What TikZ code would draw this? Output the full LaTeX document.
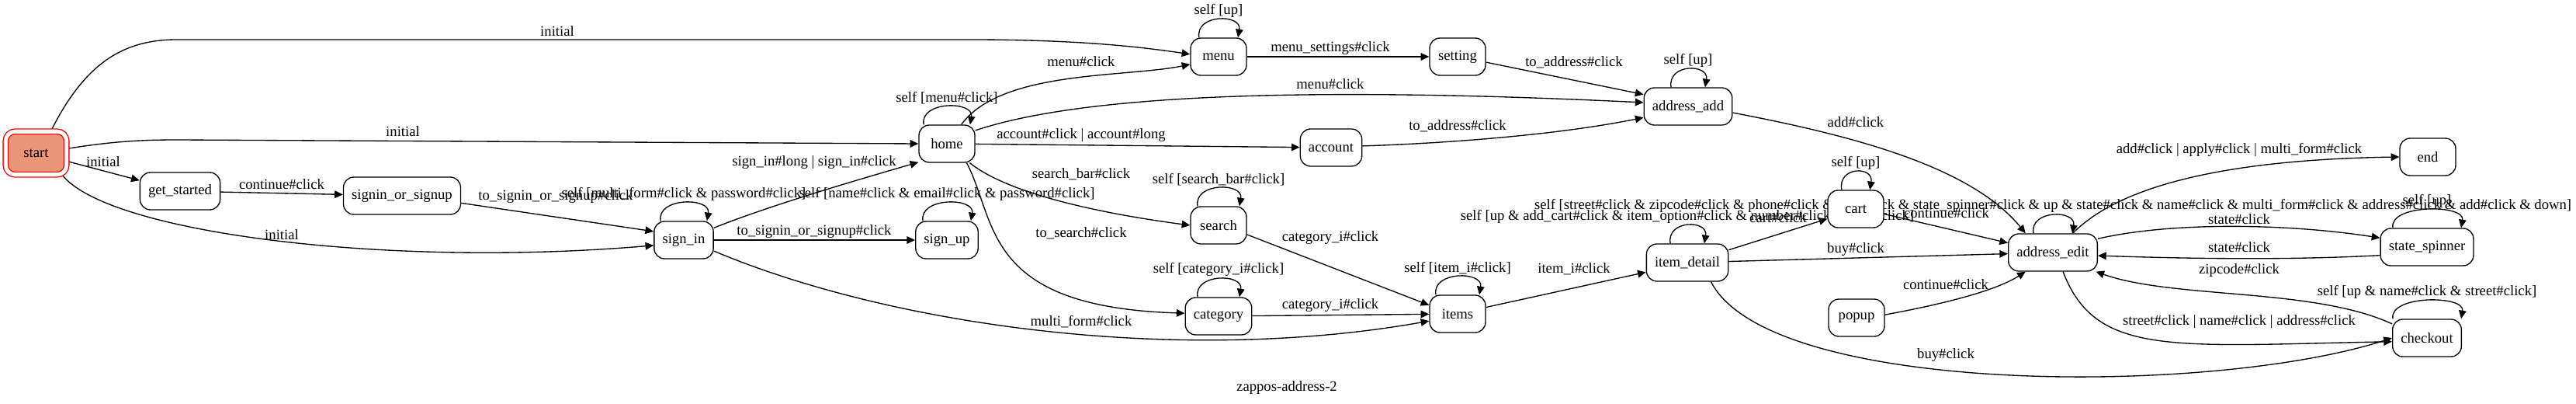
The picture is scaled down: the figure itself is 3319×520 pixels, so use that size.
\documentclass[tikz,border=0pt]{standalone}
\usepackage{fontspec}
\setmainfont{Liberation Serif}
\usetikzlibrary{arrows.meta,backgrounds}
\definecolor{salmonfill}{RGB}{233,150,122}
\tikzset{
  state/.style={draw, line width=0.5pt, rounded corners=5pt, fill=white,
    minimum width=27pt, minimum height=18pt, inner xsep=4pt, inner ysep=0pt,
    font=\fontsize{7}{8.4}\selectfont},
  initstate/.style={state, draw=red, fill=salmonfill, rounded corners=4.5pt,
    double=white, double distance=1.9pt, minimum width=29.4pt, minimum height=20.8pt},
  lbl/.style={inner sep=0pt, font=\fontsize{7}{8.4}\selectfont},
  arr/.style={-{Triangle[length=4pt,width=3.6pt]}, line width=0.5pt},
  selfloop/.style={to path={([xshift=-#1]\tikztostart.north)
    .. controls +(-2pt,11.5pt) and +(2pt,11.5pt) .. ([xshift=#1]\tikztostart.north) \tikztonodes}},
  selfloop/.default=9.4pt
}
\begin{document}
\begin{tikzpicture}[x=0.375pt,y=-0.375pt]
  \useasboundingbox (0,0) rectangle (3319,520);
  % states
  \node[initstate] (start) at (46.5,197) {start};
  \node[state] (getstarted) at (232,246) {get\_started};
  \node[state] (signinsignup) at (518,252) {signin\_or\_signup};
  \node[state] (signin) at (881,309) {sign\_in};
  \node[state] (home) at (1220,185) {home};
  \node[state] (signup) at (1220,309) {sign\_up};
  \node[state] (menu) at (1570,73) {menu};
  \node[state] (search) at (1570,290) {search};
  \node[state] (category) at (1570,407) {category};
  \node[state] (setting) at (1878,73) {setting};
  \node[state] (account) at (1715,190) {account};
  \node[state] (items) at (1878,404) {items};
  \node[state] (addradd) at (2175,137) {address\_add};
  \node[state] (itemdetail) at (2174,338) {item\_detail};
  \node[state] (cart) at (2391,269) {cart};
  \node[state] (popup) at (2392,409) {popup};
  \node[state] (addredit) at (2645,325) {address\_edit};
  \node[state] (final) at (3128,202) {end};
  \node[state] (statespin) at (3127,318) {state\_spinner};
  \node[state] (checkout) at (3127,435) {checkout};
  \node[lbl] (title) at (1658,499) {zappos-address-2};

  \begin{pgfonlayer}{background}
  % from start
  \draw[arr] (start.56) .. controls (110,80) and (160,51) .. (228,51) -- (1250,51)
    .. controls (1400,51) and (1480,62) .. (menu.175) node[lbl] (e1) at (718,40) {initial};
  \draw[arr] (start.8) .. controls (150,181) and (190,180) .. (230,180) -- (home.west)
    node[lbl] (e2) at (519,169) {initial};
  \draw[arr] (start) -- (getstarted) node[lbl] (e3) at (133,208) {initial};
  \draw[arr] (start.320) .. controls (140,300) and (500,345) .. (signin.190)
    node[lbl] (e4) at (363,302) {initial};
  \draw[arr] (getstarted) -- (signinsignup) node[lbl] (e5) at (363,237) {continue\#click};
  \draw[arr] (signinsignup.353) -- (signin.164) node[lbl] (e6) at (716,253) {to\_signin\_or\_signup\#click};

  % sign in / sign up
  \draw[arr] (signin) to[selfloop=11.2pt] node[lbl,above=1pt] (s1) {self [multi\_form\#click \& password\#click]} (signin);
  \draw[arr] (signin.22) .. controls (990,265) and (1110,230) .. (home.213)
    node[lbl] (e7) at (1049,209) {sign\_in\#long | sign\_in\#click};
  \draw[arr] (signin) -- (signup) node[lbl] (e8) at (1049,298) {to\_signin\_or\_signup\#click};
  \draw[arr] (signup) to[selfloop=11.6pt] node[lbl,above=1pt] (s2) {self [name\#click \& email\#click \& password\#click]} (signup);
  \draw[arr] (signin.340) .. controls (1150,420) and (1520,470) .. (items.194)
    node[lbl] (e9) at (1393,414) {multi\_form\#click};

  % home
  \draw[arr] (home) to[selfloop=11.2pt] node[lbl,above=1pt] (s3) {self [menu\#click]} (home);
  \draw[arr] (home.53) .. controls (1290,90) and (1450,100) .. (menu.195)
    node[lbl] (e10) at (1393,79) {menu\#click};
  \draw[arr] (home.25) .. controls (1400,120) and (1700,112) .. (addradd.175)
    node[lbl] (e11) at (1714,108) {menu\#click};
  \draw[arr] (home) -- (account) node[lbl] (e12) at (1393,174) {account\#click | account\#long};
  \draw[arr] (home.320) .. controls (1300,250) and (1420,275) .. (search.west)
    node[lbl] (e13) at (1393,224) {search\_bar\#click};
  \draw[arr] (home.316) .. controls (1285,285) and (1265,395) .. (category.175)
    node[lbl] (e14) at (1393,300) {to\_search\#click};

  % menu, setting, account
  \draw[arr] (menu) to[selfloop] node[lbl,above=1pt] (s4) {self [up]} (menu);
  \draw[arr] (menu) -- (setting) node[lbl] (e15) at (1714,62) {menu\_settings\#click};
  \draw[arr] (setting.349) -- (addradd.165) node[lbl] (e16) at (2028,80) {to\_address\#click};
  \draw[arr] (account.3) .. controls (1850,185) and (2000,175) .. (addradd.194)
    node[lbl] (e17) at (1878,162) {to\_address\#click};
  \draw[arr] (addradd) to[selfloop=8.2pt] node[lbl,above=1pt] (s5) {self [up]} (addradd);
  \draw[arr] (addradd.352) .. controls (2390,175) and (2540,215) .. (addredit.145)
    node[lbl] (e18) at (2391,157) {add\#click};

  % search, category, items
  \draw[arr] (search) to[selfloop=10.1pt] node[lbl,above=1pt] (s6) {self [search\_bar\#click]} (search);
  \draw[arr] (search.342) -- (items.163) node[lbl] (e19) at (1714,306) {category\_i\#click};
  \draw[arr] (category) to[selfloop=10.1pt] node[lbl,above=1pt] (s7) {self [category\_i\#click]} (category);
  \draw[arr] (category) -- (items) node[lbl] (e20) at (1714,393) {category\_i\#click};
  \draw[arr] (items) to[selfloop=10.5pt] node[lbl,above=1pt] (s8) {self [item\_i\#click]} (items);
  \draw[arr] (items.13) -- (itemdetail.193) node[lbl] (e21) at (2028,346) {item\_i\#click};

  % item detail, cart, popup
  \draw[arr] (itemdetail) to[selfloop=8.2pt] node[lbl,above=1pt] (s9) {self [up \& add\_cart\#click \& item\_option\#click \& number\#click \& help\#click]} (itemdetail);
  \draw[arr] (itemdetail.17) -- (cart.199) node[lbl] (e22) at (2291,280) {cart\#click};
  \draw[arr] (itemdetail) -- (addredit) node[lbl] (e23) at (2391,321) {buy\#click};
  \draw[arr] (itemdetail.321) .. controls (2280,510) and (2850,510) .. (checkout.west)
    node[lbl] (e24) at (2507,457) {buy\#click};
  \draw[arr] (cart) to[selfloop=6.8pt] node[lbl,above=1pt] (s10) {self [up]} (cart);
  \draw[arr] (cart.350) -- (addredit.168) node[lbl] (e25) at (2508,274) {continue\#click};
  \draw[arr] (popup.6) .. controls (2500,392) and (2570,375) .. (addredit.215)
    node[lbl] (e26) at (2507,366) {continue\#click};

  % address edit
  \draw[arr] (addredit) to[selfloop] node[lbl,above=1pt] (s11) {self [street\#click \& zipcode\#click \& phone\#click \& city\#click \& state\_spinner\#click \& up \& state\#click \& name\#click \& multi\_form\#click \& address\#click \& add\#click \& down]} (addredit);
  \draw[arr] (addredit.44) .. controls (2740,230) and (2900,205) .. (final.west)
    node[lbl] (e27) at (2885,193) {add\#click | apply\#click | multi\_form\#click};
  \draw[arr] (addredit.17) .. controls (2800,285) and (2950,288) .. (statespin.169)
    node[lbl] (e28) at (2885,282) {state\#click};
  \draw[arr] (statespin.190) .. controls (2950,335) and (2820,333) .. (addredit.356)
    node[lbl] (e29) at (2885,318) {state\#click};
  \draw[arr] (statespin) to[selfloop=16.5pt] node[lbl,above=1pt] (s12) {self [up]} (statespin);
  \draw[arr] (checkout.158) .. controls (2980,370) and (2800,385) .. (addredit.336)
    node[lbl] (e30) at (2885,348) {zipcode\#click};
  \draw[arr] (addredit.298) .. controls (2700,460) and (2800,445) .. (checkout.186)
    node[lbl] (e31) at (2885,414) {street\#click | name\#click | address\#click};
  \draw[arr] (checkout) to[selfloop=16.5pt] node[lbl,above=1pt] (s13) {self [up \& name\#click \& street\#click]} (checkout);
  \end{pgfonlayer}
\end{tikzpicture}
\end{document}
